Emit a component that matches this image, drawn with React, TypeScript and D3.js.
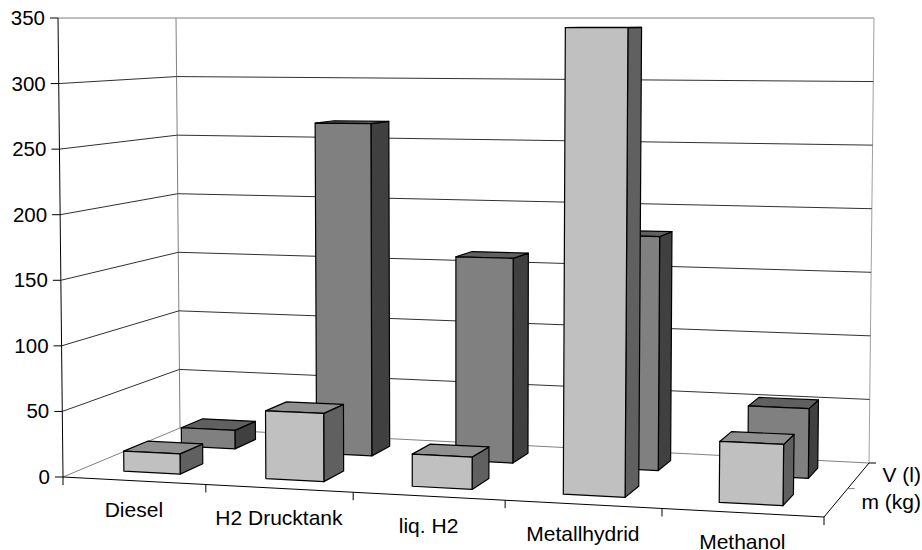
import * as d3 from "d3";

const categories = ["Diesel", "H2 Drucktank", "liq. H2", "Metallhydrid", "Methanol"];
const seriesNames = ["m (kg)", "V (l)"];
const massValues = [15.5, 51.5, 24, 343, 44];
const volumeValues = [15, 265.5, 161, 181, 53];
const yTicks = [0, 50, 100, 150, 200, 250, 300, 350];

const width = 922;
const height = 550;

type Pt = [number, number];

// corners of the 3d floor as drawn: front left, front right, back right, back left
const floorQuad: Pt[] = [[63, 477], [824, 517], [869, 463], [180, 428]];
// the top of the box sits on one horizontal line, the verticals only lean a little
const topY = 18;
const lean = { frontLeft: -5, frontRight: 6, backRight: 5, backLeft: -4 };
// extra foreshortening along the category axis
const categoryPerspective = 0.056;

// unit square -> quad
function homography(q: Pt[]) {
  const [[x0, y0], [x1, y1], [x2, y2], [x3, y3]] = q;
  const dx1 = x1 - x2, dx2 = x3 - x2, sx = x0 - x1 + x2 - x3;
  const dy1 = y1 - y2, dy2 = y3 - y2, sy = y0 - y1 + y2 - y3;
  const den = dx1 * dy2 - dx2 * dy1;
  const g = (sx * dy2 - dx2 * sy) / den;
  const h = (dx1 * sy - sx * dy1) / den;
  const a = x1 - x0 + g * x1, b = x3 - x0 + h * x3;
  const d = y1 - y0 + g * y1, e = y3 - y0 + h * y3;
  return (u: number, v: number): Pt => {
    const w = g * u + h * v + 1;
    return [(a * u + b * v + x0) / w, (d * u + e * v + y0) / w];
  };
}

const floorAt = homography(floorQuad);

const yScale = d3.scaleLinear().domain([0, 350]).range([0, 1]);
const xScale = d3.scaleBand<string>().domain(categories).range([0, 1]).paddingInner(0.6).paddingOuter(0.3);
const zScale = d3.scaleBand<string>().domain(seriesNames).range([0, 1]).paddingInner(0.6).paddingOuter(0.3);

// u along categories, v into depth, value up the wall
function project(uRaw: number, v: number, value: number): Pt {
  const u = uRaw / (1 + categoryPerspective * (1 - uRaw));
  const f = floorAt(u, v);
  const front = lean.frontLeft + (lean.frontRight - lean.frontLeft) * u;
  const back = lean.backLeft + (lean.backRight - lean.backLeft) * u;
  const dx = front + (back - front) * v;
  const k = yScale(value);
  return [f[0] + dx * k, f[1] + (topY - f[1]) * k];
}

const path = d3.line<Pt>();
const closed = (pts: Pt[]) => path(pts) + "Z";

const seriesValues = [massValues, volumeValues];
const faceColors = [
  { front: "#c0c0c0", top: "#909090", side: "#606060" },
  { front: "#808080", top: "#606060", side: "#404040" },
];

function Bar({ category, seriesIndex, value }: { category: string; seriesIndex: number; value: number }) {
  const u0 = xScale(category)!;
  const u1 = u0 + xScale.bandwidth();
  const v0 = zScale(seriesNames[seriesIndex])!;
  const v1 = v0 + zScale.bandwidth();
  const c = faceColors[seriesIndex];
  const front = [project(u0, v0, 0), project(u1, v0, 0), project(u1, v0, value), project(u0, v0, value)];
  const side = [project(u1, v0, 0), project(u1, v1, 0), project(u1, v1, value), project(u1, v0, value)];
  const top = [project(u0, v0, value), project(u1, v0, value), project(u1, v1, value), project(u0, v1, value)];
  return (
    <g stroke="#000" strokeWidth={1.2} strokeLinejoin="round">
      <path d={closed(side)} fill={c.side} />
      <path d={closed(top)} fill={c.top} />
      <path d={closed(front)} fill={c.front} />
    </g>
  );
}

export default function App() {
  const catTicks = d3.range(categories.length + 1).map((i) => i / categories.length);
  const labelFont = { fontFamily: "Liberation Sans, Arial, sans-serif", fontSize: 21, fill: "#000" };

  return (
    <svg
      width={width}
      height={height}
      style={{ position: "absolute", left: 0, top: 0, display: "block", background: "#fff" }}
    >
      {/* walls */}
      <g fill="none" stroke="#808080" strokeWidth={1}>
        <path d={path([project(0, 0, 350), project(0, 1, 350), project(1, 1, 350)])!} />
        <path d={path([project(0, 1, 0), project(0, 1, 350)])!} />
        <path d={path([project(1, 1, 0), project(1, 1, 350)])!} stroke="#a0a0a0" />
        <path d={path([project(0, 0, 0), project(0, 1, 0), project(1, 1, 0)])!} />
      </g>
      {/* gridlines on both walls */}
      <g fill="none" stroke="#303030" strokeWidth={1}>
        {yTicks.slice(1, -1).map((t) => (
          <path key={t} d={path([project(0, 0, t), project(0, 1, t), project(1, 1, t)])!} />
        ))}
      </g>
      {/* axes */}
      <g fill="none" stroke="#000" strokeWidth={1}>
        <path d={path([project(0, 0, 350), project(0, 0, 0)])!} />
        <path d={path([project(0, 0, 0), project(1, 0, 0), project(1, 1, 0)])!} />
        {yTicks.map((t) => {
          const [x, y] = project(0, 0, t);
          return <line key={t} x1={x - 8} x2={x} y1={y} y2={y} />;
        })}
        {catTicks.map((u) => {
          const [x, y] = project(u, 0, 0);
          return <line key={u} x1={x} x2={x} y1={y} y2={y + 8} />;
        })}
        {[0.5, 1].map((v) => {
          const [x, y] = project(1, v, 0);
          return <line key={v} x1={x} x2={x + 7} y1={y} y2={y} stroke={v === 1 ? "#000" : "#808080"} />;
        })}
      </g>
      {/* back row first so the front row covers it */}
      {[1, 0].map((s) =>
        categories.map((c, i) => <Bar key={c + s} category={c} seriesIndex={s} value={seriesValues[s][i]} />),
      )}
      <g {...labelFont} fontSize={20.5} textAnchor="end">
        {yTicks.map((t) => {
          const [x, y] = project(0, 0, t);
          return (
            <text key={t} x={x - 13} y={y + 7}>
              {t}
            </text>
          );
        })}
      </g>
      <g {...labelFont} textAnchor="middle">
        {categories.map((c) => {
          const [x, y] = project(xScale(c)! + xScale.bandwidth() / 2, 0, 0);
          return (
            <text key={c} x={x} y={y + 36.5}>
              {c}
            </text>
          );
        })}
      </g>
      <g {...labelFont} textAnchor="end">
        {seriesNames.map((s) => {
          const [, y] = project(1, zScale(s)! + zScale.bandwidth() / 2, 0);
          return (
            <text key={s} x={921} y={y + 6.5}>
              {s}
            </text>
          );
        })}
      </g>
    </svg>
  );
}
